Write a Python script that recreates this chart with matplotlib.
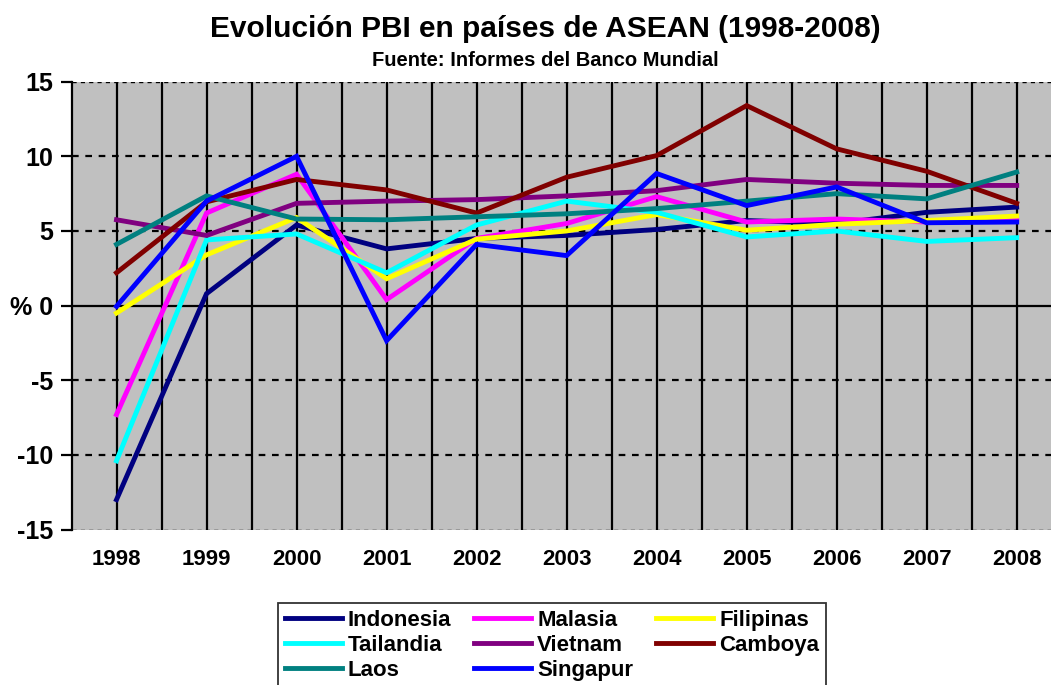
import matplotlib
matplotlib.use("Agg")
import matplotlib.pyplot as plt
import numpy as np

years = ["1998", "1999", "2000", "2001", "2002", "2003", "2004", "2005", "2006", "2007", "2008"]

indonesia = [-13.0, 0.8, 5.4, 3.8, 4.5, 4.7, 5.1, 5.7, 5.5, 6.25, 6.6]
malasia = [-7.3, 6.2, 8.8, 0.4, 4.5, 5.5, 7.3, 5.6, 5.8, 5.6, 5.8]
filipinas = [-0.5, 3.4, 5.9, 1.8, 4.45, 5.0, 6.1, 5.05, 5.45, 5.7, 6.0]
tailandia = [-10.4, 4.4, 4.8, 2.2, 5.4, 7.0, 6.25, 4.6, 5.0, 4.3, 4.55]
vietnam = [5.75, 4.7, 6.85, 7.0, 7.1, 7.35, 7.7, 8.45, 8.2, 8.05, 8.05]
camboya = [2.2, 6.95, 8.45, 7.75, 6.2, 8.6, 10.05, 13.4, 10.5, 9.0, 6.85]
laos = [4.1, 7.35, 5.8, 5.75, 5.95, 6.15, 6.5, 7.0, 7.5, 7.15, 8.95]
singapur = [-0.05, 7.0, 10.0, -2.35, 4.1, 3.35, 8.85, 6.7, 7.95, 5.55, 5.6]

series = [
    ("Indonesia", indonesia, "#000080"),
    ("Malasia", malasia, "#FF00FF"),
    ("Filipinas", filipinas, "#FFFF00"),
    ("Tailandia", tailandia, "#00FFFF"),
    ("Vietnam", vietnam, "#800080"),
    ("Camboya", camboya, "#800000"),
    ("Laos", laos, "#008080"),
    ("Singapur", singapur, "#0000FF"),
]

yticks = [15, 10, 5, 0, -5, -10, -15]
ytick_labels = ["15", "10", "5", "% 0", "-5", "-10", "-15"]

plt.rcParams['font.family'] = ['Liberation Sans', 'DejaVu Sans']
plt.rcParams['font.weight'] = 'bold'

W, H = 1051, 685
fig = plt.figure(figsize=(W / 100, H / 100), dpi=100)
ax = fig.add_axes([71.5 / W, 1 - 529.5 / H, (1061.7 - 71.5) / W, (529.5 - 81.7) / H])
ax.set_facecolor("#C0C0C0")

x = np.arange(len(years))
ax.set_xlim(-0.5, len(years) - 0.5)
ax.set_ylim(-15, 15)

# vertical gridlines at categories and category boundaries
for k in np.arange(0, len(years) - 0.49, 0.5):
    ax.axvline(k, color="black", lw=1.6, zorder=1)
# horizontal gridlines
for v in yticks:
    if v == 0:
        ax.axhline(v, color="black", lw=1.6, zorder=1)
    else:
        ax.axhline(v, color="black", lw=1.6 if abs(v) < 15 else 1.0,
                   linestyle=(0, (3, 3)), zorder=1)

handles = {}
for name, vals, col in series:
    h, = ax.plot(x, vals, color=col, lw=3.5, label=name, zorder=3,
                 solid_joinstyle="miter")
    handles[name] = h

for s in ["top", "right", "bottom"]:
    ax.spines[s].set_visible(False)
ax.spines["left"].set_linewidth(1.6)

ax.set_yticks(yticks)
ax.set_yticklabels(ytick_labels, fontsize=18, fontweight="bold")
ax.tick_params(axis="y", direction="out", length=8, width=1.6, pad=5)
ax.set_xticks(x)
ax.set_xticklabels(years, fontsize=16, fontweight="bold")
ax.tick_params(axis="x", length=0, pad=14)

fig.text(545 / W, 1 - 29 / H, "Evolución PBI en países de ASEAN (1998-2008)",
         ha="center", va="center", fontsize=21.5, fontweight="bold")
fig.text(545 / W, 1 - 60 / H, "Fuente: Informes del Banco Mundial",
         ha="center", va="center", fontsize=14.5, fontweight="bold")

order = ["Indonesia", "Tailandia", "Laos", "Malasia", "Vietnam", "Singapur",
         "Filipinas", "Camboya"]
leg = fig.legend([handles[n] for n in order], order, ncol=3,
                 loc="upper center", bbox_to_anchor=(552 / W, 1 - 603 / H),
                 frameon=True, fancybox=False, edgecolor="black",
                 prop={"size": 16, "weight": "bold"},
                 handlelength=2.55, handletextpad=0.27, columnspacing=1.05,
                 labelspacing=0.18, borderpad=0.3, borderaxespad=0)
leg.get_frame().set_linewidth(1.3)

fig.savefig("out.png", dpi=100)
